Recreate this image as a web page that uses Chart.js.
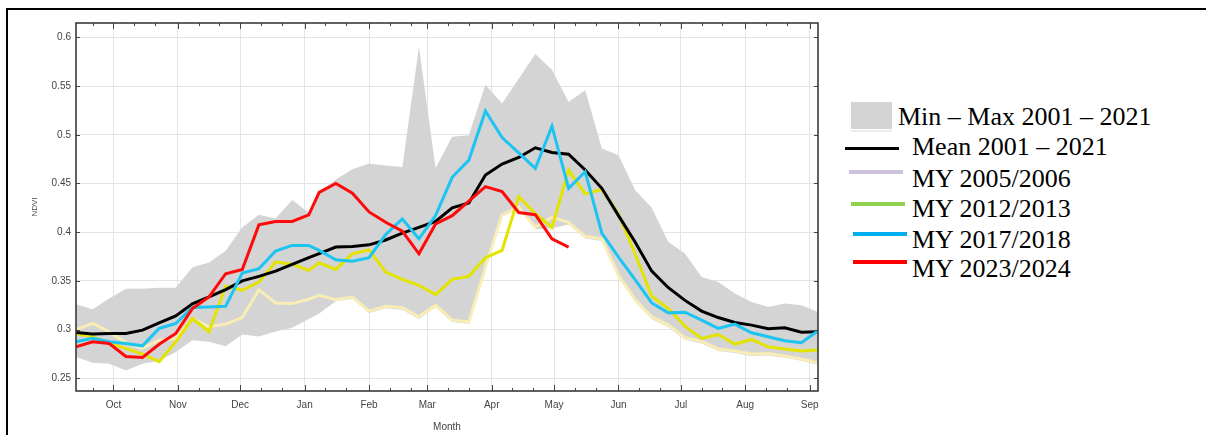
<!DOCTYPE html>
<html>
<head>
<meta charset="utf-8">
<script src="https://cdn.jsdelivr.net/npm/chart.js@4.4.1/dist/chart.umd.min.js"></script>
<style>
  html, body { margin: 0; padding: 0; background: #fff; }
  body { width: 1206px; height: 435px; position: relative; overflow: hidden; }
  #frame { position: absolute; left: 6px; top: 8px; right: 0; bottom: -5px;
           border-left: 2.5px solid #000; border-top: 2.5px solid #000; }
  #chartBox { position: absolute; left: 0; top: 0; width: 830px; height: 435px; }
  .lg-text { position: absolute; font-family: "Liberation Serif", "Times New Roman", serif;
             font-size: 26px; line-height: 26px; color: #000; white-space: nowrap; }
  .lg-line { position: absolute; }
</style>
</head>
<body>
<div id="frame"></div>
<div id="chartBox"><canvas id="ndviChart" width="830" height="435"></canvas></div>

<!-- legend, drawn as in the source figure -->
<div class="lg-line" style="left:851px;top:102px;width:41px;height:27px;background:#d4d4d4;"></div>
<div class="lg-line" style="left:851px;top:130px;width:41px;height:2px;background:#ececec;"></div>
<div class="lg-text" style="left:898px;top:104px;">Min – Max 2001 – 2021</div>
<div class="lg-line" style="left:845px;top:146.5px;width:54px;height:3.5px;background:#000;"></div>
<div class="lg-text" style="left:912px;top:134px;">Mean 2001 – 2021</div>
<div class="lg-line" style="left:849px;top:169.5px;width:54px;height:4px;background:#cdc3de;"></div>
<div class="lg-text" style="left:912px;top:165.5px;">MY 2005/2006</div>
<div class="lg-line" style="left:851px;top:202px;width:54px;height:4px;background:#92d050;"></div>
<div class="lg-text" style="left:912px;top:195.5px;">MY 2012/2013</div>
<div class="lg-line" style="left:853px;top:232px;width:54px;height:3.5px;background:#00b0f0;"></div>
<div class="lg-text" style="left:912px;top:226.5px;">MY 2017/2018</div>
<div class="lg-line" style="left:853px;top:260px;width:54px;height:3.5px;background:#ff0000;"></div>
<div class="lg-text" style="left:912px;top:255.5px;">MY 2023/2024</div>

<script>
// Day offsets from 1 Sep (end date of each 8-day composite)
const days = [12, 20, 28, 36, 44, 52, 60, 68, 76, 84, 92, 100, 108, 116, 124,
  129, 137, 145, 153, 161, 169, 177, 185, 193, 201, 209, 217, 225, 233, 241,
  249, 257, 265, 273, 281, 289, 297, 305, 313, 321, 329, 337, 345, 353, 361, 369];

const monthDays = [30, 61, 91, 122, 153, 181, 212, 242, 273, 303, 334, 365];
const monthLabels = ['Oct', 'Nov', 'Dec', 'Jan', 'Feb', 'Mar', 'Apr', 'May', 'Jun', 'Jul', 'Aug', 'Sep'];
const dekadDays = [20, 40, 50, 71, 81, 101, 111, 132, 142, 163, 173, 191, 201, 222, 232,
  252, 262, 283, 293, 313, 323, 344, 354];

const yTicks = [0.25, 0.3, 0.35, 0.4, 0.45, 0.5, 0.55, 0.6];
const yTickLabels = ['0.25', '0.3', '0.35', '0.4', '0.45', '0.5', '0.55', '0.6'];

const minVals = [0.272, 0.266, 0.265, 0.258, 0.265, 0.268, 0.277, 0.289, 0.2875, 0.283,
  0.295, 0.293, 0.298, 0.302, 0.311, 0.3165, 0.329, 0.3315, 0.317, 0.322,
  0.3205, 0.311, 0.323, 0.3077, 0.306, 0.362, 0.416, 0.4235, 0.403, 0.404,
  0.408, 0.3935, 0.391, 0.3535, 0.3285, 0.311, 0.3025, 0.2895, 0.2858, 0.278,
  0.276, 0.273, 0.2735, 0.271, 0.268, 0.264];

const maxVals = [0.326, 0.321, 0.332, 0.342, 0.342, 0.343, 0.343, 0.364, 0.369, 0.381,
  0.405, 0.418, 0.414, 0.433, 0.42, 0.44, 0.454, 0.4645, 0.4706, 0.4685,
  0.467, 0.59, 0.466, 0.498, 0.4995, 0.5513, 0.532, 0.5575, 0.583, 0.5667,
  0.5336, 0.5456, 0.486, 0.479, 0.4433, 0.425, 0.39, 0.378, 0.354, 0.349,
  0.337, 0.3284, 0.3233, 0.3267, 0.325, 0.3182];

const meanVals = [0.297, 0.2955, 0.296, 0.296, 0.2995, 0.307, 0.314, 0.3265, 0.3335, 0.341,
  0.35, 0.3547, 0.36, 0.367, 0.3738, 0.378, 0.3847, 0.3853, 0.387, 0.392,
  0.399, 0.405, 0.411, 0.425, 0.43, 0.4587, 0.47, 0.4767, 0.4866, 0.4818,
  0.48, 0.4638, 0.445, 0.417, 0.39, 0.36, 0.343, 0.33, 0.319, 0.3124,
  0.3073, 0.3046, 0.3008, 0.3019, 0.2974, 0.2977];

const my0506 = [0.3, 0.3063, 0.2978, 0.2865, 0.2807, 0.2892, 0.2909, 0.3114, 0.3029, 0.3056,
  0.3124, 0.341, 0.3274, 0.3267, 0.3312, 0.3352, 0.3308, 0.3335, 0.3189, 0.324,
  0.3226, 0.3131, 0.325, 0.3097, 0.308, 0.3642, 0.4181, 0.4256, 0.4051, 0.4153,
  0.4102, 0.3956, 0.3932, 0.3557, 0.3308, 0.3131, 0.3046, 0.2916, 0.2879, 0.28,
  0.278, 0.2749, 0.2756, 0.2729, 0.2698, 0.266];

const my1213 = [0.296, 0.2926, 0.2858, 0.2807, 0.2749, 0.2671, 0.2875, 0.3114, 0.2978, 0.3444,
  0.3404, 0.3489, 0.3693, 0.367, 0.3608, 0.3686, 0.3618, 0.3778, 0.3819, 0.3591,
  0.3516, 0.3455, 0.336, 0.3516, 0.3547, 0.3738, 0.3813, 0.4365, 0.419, 0.405,
  0.4638, 0.4392, 0.444, 0.4187, 0.3778, 0.3342, 0.3216, 0.3035, 0.2909, 0.295,
  0.2851, 0.2899, 0.2824, 0.28, 0.278, 0.279];

const my1718 = [0.2875, 0.291, 0.2875, 0.2858, 0.2834, 0.3012, 0.3063, 0.3226, 0.3233, 0.324,
  0.3581, 0.3625, 0.3806, 0.3864, 0.3864, 0.3813, 0.3717, 0.3703, 0.3738, 0.3976,
  0.4136, 0.3932, 0.417, 0.4563, 0.474, 0.5244, 0.4972, 0.4815, 0.4655, 0.5088,
  0.445, 0.462, 0.399, 0.3744, 0.3513, 0.3274, 0.3172, 0.3179, 0.3097, 0.3012,
  0.3056, 0.2967, 0.2926, 0.2885, 0.2865, 0.2988];

const my2324 = [0.2824, 0.2875, 0.2858, 0.2725, 0.2715, 0.285, 0.296, 0.3216, 0.3335, 0.3574,
  0.3618, 0.4075, 0.411, 0.411, 0.4177, 0.4409, 0.4501, 0.44, 0.4208, 0.4102,
  0.401, 0.3778, 0.4085, 0.417, 0.432, 0.4467, 0.4416, 0.4202, 0.418, 0.3932,
  0.3847];

function pts(vals) {
  return vals.map((v, i) => ({ x: days[i], y: v }));
}

function lineSet(label, vals, color, order) {
  return {
    label: label, data: pts(vals), borderColor: color, borderWidth: 3,
    pointRadius: 0, fill: false, tension: 0, order: order
  };
}

// inward ticks and the plot frame, placed with the chart's own scales
const frameTicks = {
  id: 'frameTicks',
  afterDraw(chart) {
    const { ctx, chartArea: a } = chart;
    const x = chart.scales.x, y = chart.scales.y;
    ctx.save();
    ctx.strokeStyle = '#444';
    ctx.lineWidth = 1;
    const seg = (x1, y1, x2, y2) => { ctx.beginPath(); ctx.moveTo(x1, y1); ctx.lineTo(x2, y2); ctx.stroke(); };
    monthDays.forEach(d => {
      const px = Math.round(x.getPixelForValue(d)) + 0.5;
      seg(px, a.top, px, a.top + 6);
      seg(px, a.bottom, px, a.bottom - 6);
    });
    dekadDays.forEach(d => {
      const px = Math.round(x.getPixelForValue(d)) + 0.5;
      seg(px, a.top, px, a.top + 3);
      seg(px, a.bottom, px, a.bottom - 3);
    });
    yTicks.forEach(v => {
      const py = Math.round(y.getPixelForValue(v)) + 0.5;
      seg(a.left, py, a.left + 4, py);
      seg(a.right, py, a.right - 4, py);
    });
    ctx.lineWidth = 1.6;
    ctx.strokeStyle = '#3a3a3a';
    ctx.strokeRect(a.left, a.top, a.right - a.left, a.bottom - a.top);
    ctx.restore();
  }
};

const tickFont = { family: '"Liberation Sans Narrow", "Arial Narrow", "Liberation Sans", sans-serif', size: 10 };

new Chart(document.getElementById('ndviChart'), {
  type: 'line',
  data: {
    datasets: [
      { label: 'Min', data: pts(minVals), borderWidth: 0, borderColor: 'rgba(0,0,0,0)',
        pointRadius: 0, fill: false, tension: 0, order: 7 },
      { label: 'Min – Max 2001 – 2021', data: pts(maxVals), borderWidth: 0, borderColor: 'rgba(0,0,0,0)',
        backgroundColor: '#d4d4d4', pointRadius: 0, fill: '-1', tension: 0, order: 6 },
      lineSet('MY 2005/2006', my0506, '#f8edb4', 5),
      lineSet('MY 2012/2013', my1213, '#e3e300', 4),
      lineSet('Mean 2001 – 2021', meanVals, '#000000', 3),
      lineSet('MY 2017/2018', my1718, '#1cc4f2', 2),
      lineSet('MY 2023/2024', my2324, '#ff0a0a', 1)
    ]
  },
  options: {
    responsive: false,
    animation: false,
    layout: { padding: { top: 23, right: 12, left: 0, bottom: 0 } },
    plugins: { legend: { display: false }, tooltip: { enabled: false } },
    scales: {
      x: {
        type: 'linear', min: 12, max: 369,
        afterBuildTicks: axis => { axis.ticks = monthDays.map(v => ({ value: v })); },
        afterFit: axis => { axis.height = 44; },
        grid: { color: '#e4e4e4', drawTicks: false },
        border: { display: false },
        ticks: {
          padding: 8, color: '#444', font: tickFont, maxRotation: 0, autoSkip: false,
          callback: (v, i) => monthLabels[i]
        },
        title: { display: true, text: 'Month', color: '#444', font: tickFont, padding: { top: 0, bottom: 2 } }
      },
      y: {
        min: 0.237, max: 0.6147,
        afterBuildTicks: axis => { axis.ticks = yTicks.map(v => ({ value: v })); },
        afterFit: axis => { axis.width = 76; },
        grid: { color: '#e4e4e4', drawTicks: false },
        border: { display: false },
        ticks: {
          padding: 5, color: '#444', font: tickFont,
          callback: (v, i) => yTickLabels[i]
        },
        title: { display: true, text: 'NDVI', color: '#444',
                 font: { family: tickFont.family, size: 8 }, padding: { top: 30, bottom: 0 } }
      }
    }
  },
  plugins: [frameTicks]
});
</script>
</body>
</html>
